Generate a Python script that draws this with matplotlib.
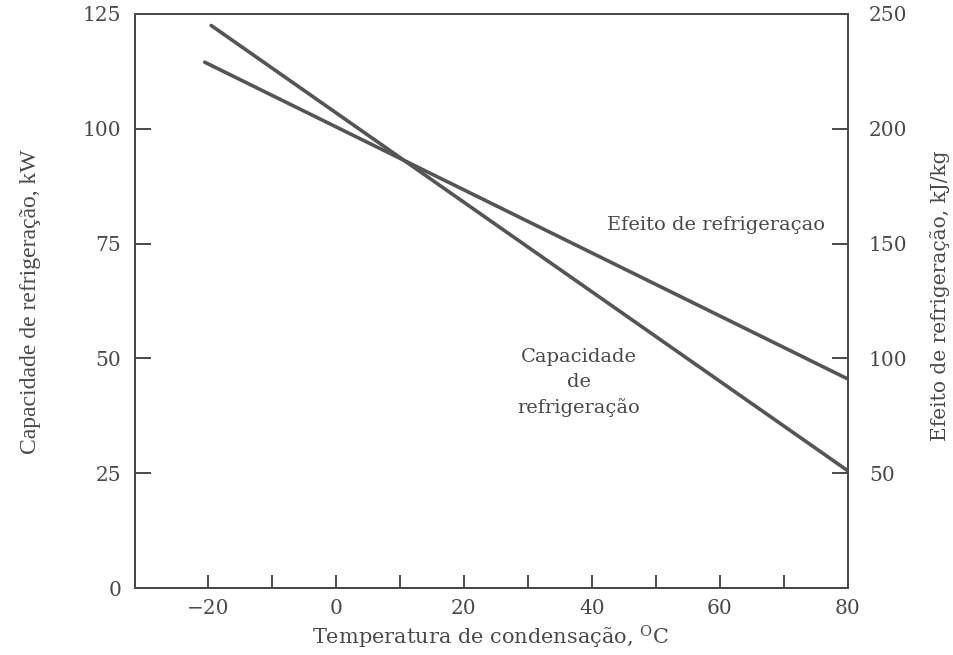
import matplotlib
matplotlib.use("Agg")
import matplotlib.pyplot as plt

# Data
cap_temp = [-19.5, 80]          # °C
cap_kw = [122.5, 25.5]          # kW (left axis)
eff_temp = [-20.5, 80]          # °C
eff_kjkg = [229, 91]            # kJ/kg (right axis)

x_ticks = [-20, -10, 0, 10, 20, 30, 40, 50, 60, 70, 80]
x_labels = ["\u221220", "", "0", "", "20", "", "40", "", "60", "", "80"]
left_ticks = [0, 25, 50, 75, 100, 125]
right_ticks = [50, 100, 150, 200, 250]

ink = "#4a4a4a"
line_c = "#555555"
plt.rcParams["font.family"] = ["DejaVu Serif"]
plt.rcParams["mathtext.fontset"] = "dejavuserif"

W, H = 954, 655
L, R, B, T = 135, 848, 588, 14
fig = plt.figure(figsize=(W/100, H/100), dpi=100)
ax = fig.add_axes([L/W, (H-B)/H, (R-L)/W, (B-T)/H])
ax2 = ax.twinx()

ax.plot(cap_temp, cap_kw, color=line_c, lw=2.6, solid_capstyle="round")
ax2.plot(eff_temp, eff_kjkg, color=line_c, lw=2.6, solid_capstyle="round")

ax.set_xlim(-31.4, 80)
ax.set_ylim(0, 125)
ax2.set_ylim(0, 250)

for a in (ax, ax2):
    for s in a.spines.values():
        s.set_color(ink)
        s.set_linewidth(1.4)

ax.set_xticks(x_ticks)
ax.set_xticklabels(x_labels)
ax.set_yticks(left_ticks)
ax2.set_yticks(right_ticks)

ax.tick_params(axis="x", direction="in", length=9.5, width=1.4, color=ink,
               labelsize=14.5, labelcolor=ink, pad=8)
ax.tick_params(axis="y", direction="in", length=11.5, width=1.4, color=ink,
               labelsize=14.5, labelcolor=ink, pad=10)
ax2.tick_params(axis="y", direction="in", length=11.5, width=1.4, color=ink,
                labelsize=14.5, labelcolor=ink, pad=15)

ax.set_xlabel("Temperatura de condensação, $^{\\mathrm{O}}$C", fontsize=15,
              color=ink)
ax.xaxis.set_label_coords((490 - L)/(R - L), (B - 624)/(B - T))
ax.set_ylabel("Capacidade de refrigeração, kW", fontsize=17, color=ink,
              family="Liberation Serif")
ax.yaxis.set_label_coords((41 - L)/(R - L), (B - 302)/(B - T))
ax2.set_ylabel("Efeito de refrigeração, kJ/kg", fontsize=14.5, color=ink)
ax2.yaxis.set_label_coords((930 - L)/(R - L), (B - 296)/(B - T))

ax.text(59.3, 79.0, "Efeito de refrigeraçao", fontsize=14, color=ink,
        ha="center", va="center")
ax.text(37.9, 44.8, "Capacidade\nde\nrefrigeração", fontsize=14, color=ink,
        ha="center", va="center", linespacing=1.5)

fig.savefig("out.png", dpi=100)
